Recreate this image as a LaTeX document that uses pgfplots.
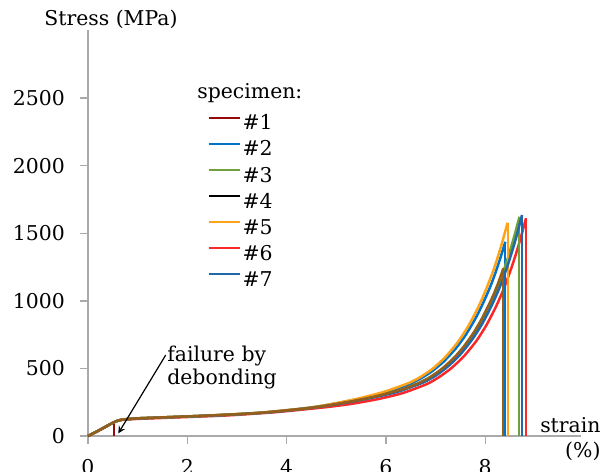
\documentclass[border=0pt]{standalone}
\usepackage{fontspec}
\setmainfont{DejaVu Serif}
\usepackage{pgfplots}
\pgfplotsset{compat=1.18}

\definecolor{axgray}{RGB}{170,170,170}
\definecolor{cA}{RGB}{150,10,10}
\definecolor{cB}{RGB}{0,114,200}
\definecolor{cC}{RGB}{112,160,60}
\definecolor{cD}{RGB}{150,95,25}
\definecolor{cE}{RGB}{255,163,26}
\definecolor{cF}{RGB}{250,40,40}
\definecolor{cG}{RGB}{31,104,170}

\newcommand{\lbl}{\fontsize{10.2}{12}\selectfont}

\begin{document}
\begin{tikzpicture}
\begin{axis}[
    x=24.825pt, y=0.0676pt,
    xmin=0, xmax=9.92, ymin=0, ymax=3000,
    axis x line*=bottom, axis y line*=left,
    axis line style={draw=axgray, line width=0.65pt},
    xtick={0,2,4,6,8}, ytick={0,500,...,2500},
    tick align=outside, major tick length=4pt,
    tick style={draw=axgray, line width=0.65pt},
    /pgf/number format/assume math mode=true,
    /pgf/number format/1000 sep={},
    scaled y ticks=false,
    ticklabel style={font=\lbl},
    yticklabel style={xshift=-4pt},
    xticklabel style={yshift=-4pt},
    clip=false,
    legend style={at={(axis cs:2.28,2425)}, anchor=north west, draw=none, fill=none,
        font=\lbl, row sep=2.0pt, column sep=0pt,
        nodes={inner sep=1pt}},
    legend cell align=left,
    legend image code/.code={\draw[#1, line width=1pt] (0pt,0.3em) -- (15.5pt,0.3em);},
    every axis plot/.append style={line width=1.25pt},
    curve/.style={smooth, tension=0.4, forget plot},
    drop/.style={forget plot, line width=1pt},
]
\addlegendimage{cA}
\addlegendimage{cB}
\addlegendimage{cC}
\addlegendimage{black}
\addlegendimage{cE}
\addlegendimage{cF}
\addlegendimage{cG}
\legend{\#1,\#2,\#3,\#4,\#5,\#6,\#7}

% #6
\addplot[cF, curve] coordinates {
(0,0) (0.1,19) (0.2,38) (0.3,58) (0.4,78) (0.5,98) (0.6,113) (0.7,120) (0.85,124) (1,127) (1.5,134) (2,141)
(2.82,153) (3.82,178) (4.82,215) (5.32,239) (5.82,272) (6.32,316) (6.82,384) (7.07,436) (7.32,503)
(7.57,590) (7.82,703) (8.02,818) (8.22,960) (8.37,1087) (8.52,1236) (8.62,1349) (8.72,1473) (8.82,1610)
};
\addplot[cF, drop] coordinates {(8.82,1610) (8.82,0)};
% #1
\addplot[cA, curve] coordinates {
(0,0) (0.1,19) (0.2,38) (0.3,58) (0.4,78) (0.5,98) (0.53,104)
};
\addplot[cA, drop] coordinates {(0.53,104) (0.53,0)};
% #2
\addplot[cB, curve] coordinates {
(0,0) (0.1,19) (0.2,38) (0.3,58) (0.4,78) (0.5,98) (0.6,114) (0.7,122) (0.85,127) (1,131) (1.5,138) (2,145)
(2.405,151) (3.405,170) (4.405,206) (4.905,236) (5.405,271) (5.905,316) (6.405,373) (6.655,417) (6.905,473)
(7.155,548) (7.405,647) (7.605,747) (7.805,871) (7.955,982) (8.105,1108) (8.205,1207) (8.305,1317) (8.405,1437)
};
\addplot[cB, drop] coordinates {(8.405,1437) (8.405,0)};
% #3
\addplot[cC, curve] coordinates {
(0,0) (0.1,19) (0.2,38) (0.3,58) (0.4,78) (0.5,98) (0.6,114) (0.7,122) (0.85,127) (1,131) (1.5,138) (2,145)
(2.69,156) (3.69,178) (4.69,219) (5.19,249) (5.69,284) (6.19,328) (6.69,394) (6.94,443) (7.19,510)
(7.44,598) (7.69,713) (7.89,829) (8.09,969) (8.24,1094) (8.39,1244) (8.49,1358) (8.59,1485) (8.69,1622)
};
\addplot[cC, drop] coordinates {(8.69,1622) (8.69,0)};
% #5
\addplot[cE, curve] coordinates {
(0,0) (0.1,19) (0.2,38) (0.3,58) (0.4,78) (0.5,98) (0.6,114) (0.7,122) (0.85,128) (1,132) (1.5,139) (2,146)
(2.45,152) (3.45,173) (4.45,210) (4.95,240) (5.45,278) (5.95,326) (6.45,391) (6.70,438) (6.95,501)
(7.20,586) (7.45,696) (7.65,808) (7.85,946) (8.00,1070) (8.15,1211) (8.25,1321) (8.35,1444) (8.45,1578)
};
\addplot[cE, drop] coordinates {(8.45,1578) (8.45,0)};
% #7
\addplot[cG, curve] coordinates {
(0,0) (0.1,19) (0.2,38) (0.3,58) (0.4,78) (0.5,98) (0.6,114) (0.7,122) (0.85,127) (1,131) (1.5,138) (2,145)
(2.74,156) (3.74,179) (4.74,221) (5.24,250) (5.74,285) (6.24,328) (6.74,395) (6.99,444) (7.24,512)
(7.49,600) (7.74,716) (7.94,831) (8.14,974) (8.29,1099) (8.44,1250) (8.54,1365) (8.64,1491) (8.74,1635)
};
\addplot[cG, drop] coordinates {(8.74,1635) (8.74,0)};
% #4
\addplot[cD, curve] coordinates {
(0,0) (0.1,19) (0.2,38) (0.3,58) (0.4,78) (0.5,98) (0.6,114) (0.7,122) (0.85,127) (1,131) (1.5,138) (2,145)
(2.365,151) (3.365,169) (4.365,203) (4.865,229) (5.365,261) (5.865,300) (6.365,350) (6.615,385) (6.865,431)
(7.115,494) (7.365,577) (7.565,661) (7.765,764) (7.915,857) (8.065,966) (8.165,1044) (8.265,1136) (8.365,1240)
};
\addplot[cD, drop] coordinates {(8.365,1240) (8.365,0)};

\node[font=\lbl, anchor=base] at (axis cs:0.463,3040) {Stress (MPa)};
\node[font=\lbl, anchor=base west, inner sep=0pt] at (axis cs:2.195,2500) {specimen:};
\node[font=\lbl, anchor=base west, inner sep=0pt] at (axis cs:1.59,555) {failure by};
\node[font=\lbl, anchor=base west, inner sep=0pt] at (axis cs:1.59,385) {debonding};
\node[font=\lbl, anchor=base east, inner sep=0pt] at (axis cs:10.33,30) {strain};
\node[font=\lbl, anchor=base east, inner sep=0pt] at (axis cs:10.33,-162) {(\%)};
\draw[-stealth, black, line width=0.6pt] (axis cs:1.565,599) -- (axis cs:0.61,20);

\coordinate (bbll) at (axis cs:-1.772,-258.9);
\coordinate (bbur) at (axis cs:10.533,3225);
\end{axis}
\pgfresetboundingbox
\useasboundingbox (bbll) rectangle (bbur);
\end{tikzpicture}
\end{document}
